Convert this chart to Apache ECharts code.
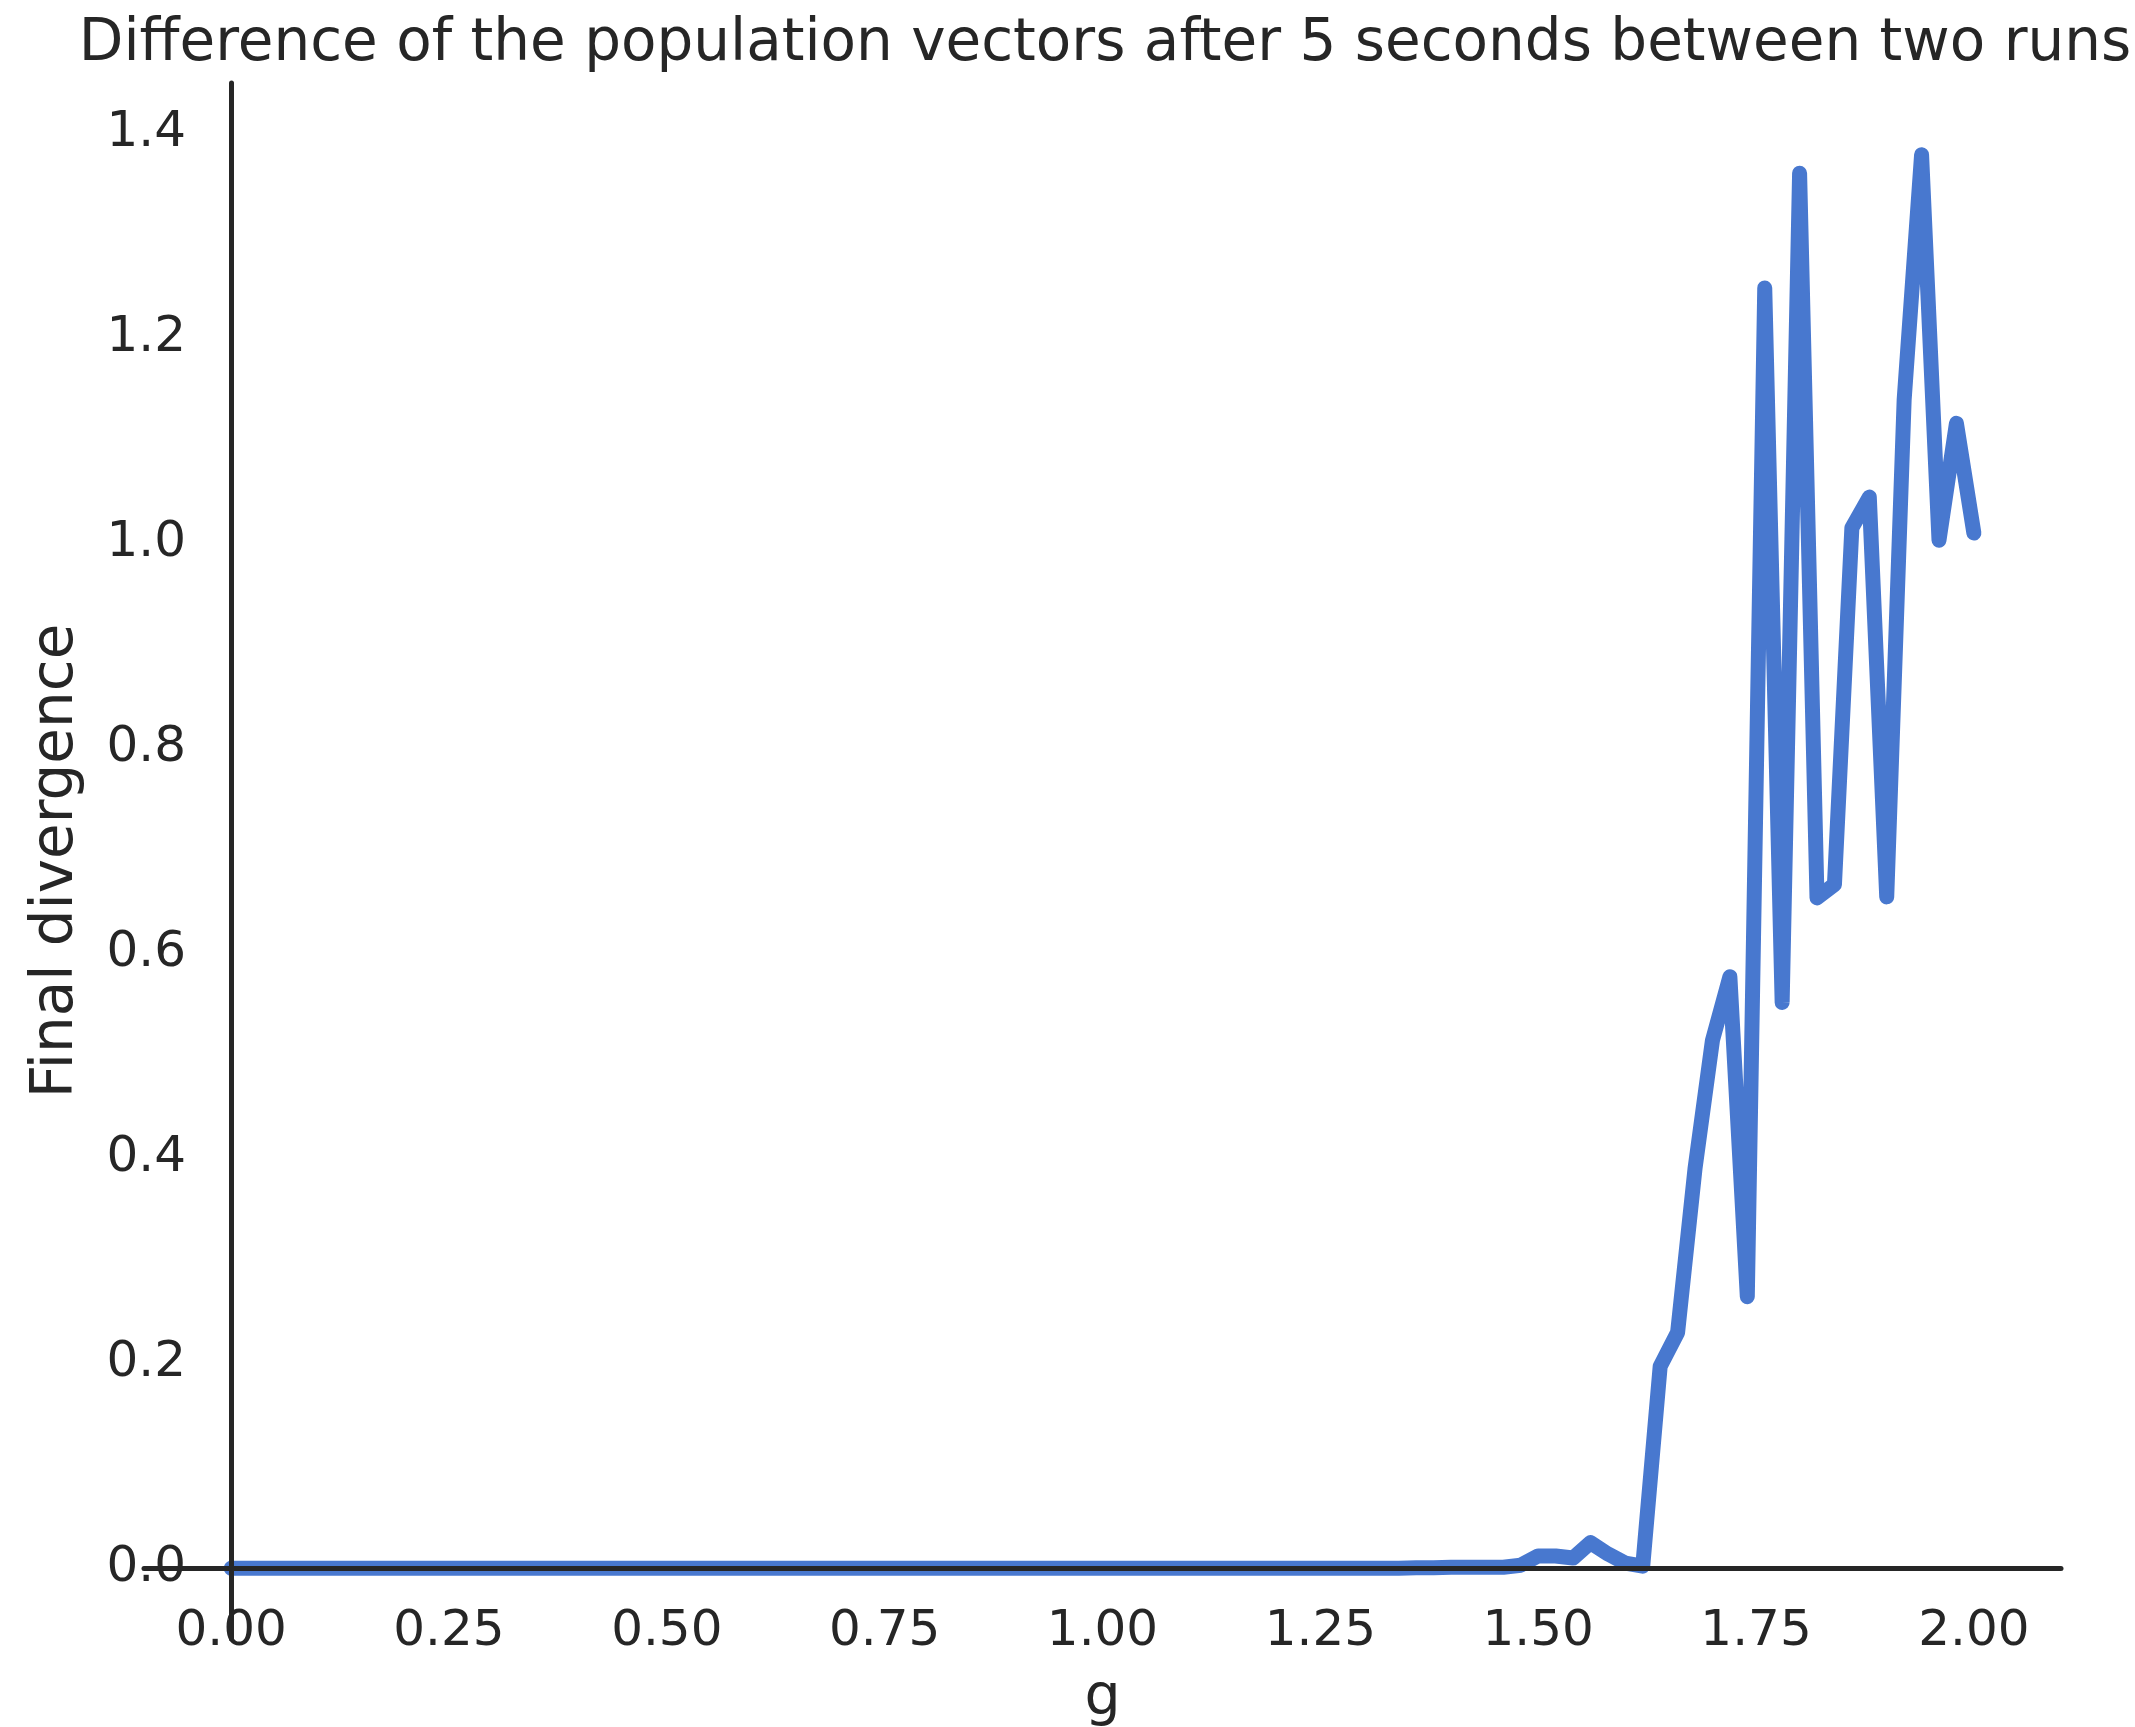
<!DOCTYPE html>
<html>
<head>
<meta charset="utf-8">
<script src="https://cdn.jsdelivr.net/npm/echarts@6/dist/echarts.min.js"></script>
<style>
html,body{margin:0;padding:0;background:#fff;}
#chart{width:2135px;height:1727px;}
</style>
</head>
<body>
<div id="chart"></div>
<script>
const titleText = "Difference of the population vectors after 5 seconds between two runs";
const xName = "g";
const yName = "Final divergence";

const gValues = [
  0.00,0.02,0.04,0.06,0.08,0.10,0.12,0.14,0.16,0.18,
  0.20,0.22,0.24,0.26,0.28,0.30,0.32,0.34,0.36,0.38,
  0.40,0.42,0.44,0.46,0.48,0.50,0.52,0.54,0.56,0.58,
  0.60,0.62,0.64,0.66,0.68,0.70,0.72,0.74,0.76,0.78,
  0.80,0.82,0.84,0.86,0.88,0.90,0.92,0.94,0.96,0.98,
  1.00,1.02,1.04,1.06,1.08,1.10,1.12,1.14,1.16,1.18,
  1.20,1.22,1.24,1.26,1.28,1.30,1.32,1.34,1.36,1.38,
  1.40,1.42,1.44,1.46,1.48,1.50,1.52,1.54,1.56,1.58,
  1.60,1.62,1.64,1.66,1.68,1.70,1.72,1.74,1.76,1.78,
  1.80,1.82,1.84,1.86,1.88,1.90,1.92,1.94,1.96,1.98,
  2.00
];

const divergence = [
  0,0,0,0,0,0,0,0,0,0,
  0,0,0,0,0,0,0,0,0,0,
  0,0,0,0,0,0,0,0,0,0,
  0,0,0,0,0,0,0,0,0,0,
  0,0,0,0,0,0,0,0,0,0,
  0,0,0,0,0,0,0,0,0,0,
  0,0,0,0,0,0,0,0,0.0005,0.0005,
  0.001,0.001,0.001,0.001,0.003,0.012,0.012,0.010,0.025,0.014,
  0.005,0.002,0.197,0.230,0.39,0.515,0.577,0.265,1.249,0.552,
  1.361,0.654,0.667,1.015,1.045,0.655,1.14,1.379,1.003,1.117,
  1.010
];

const xTicks = [0, 0.25, 0.5, 0.75, 1.0, 1.25, 1.5, 1.75, 2.0];
const yTicks = [0, 0.2, 0.4, 0.6, 0.8, 1.0, 1.2, 1.4];

const FONT = "DejaVu Sans";
const TXT = "#262626";

// plot box (matplotlib axes incl. 5% margins)
const GRID = {left: 144, right: 74, top: 83, bottom: 88};
const X_MIN = -0.1, X_MAX = 2.1, Y_MIN = -0.069, Y_MAX = 1.449;
const plotW = 2135 - GRID.left - GRID.right;
const plotH = 1727 - GRID.top - GRID.bottom;
// spines sit at the data zero of the other axis
const xAxisOffset = -Math.round((0 - Y_MIN) / (Y_MAX - Y_MIN) * plotH);
const yAxisOffset = -Math.round((0 - X_MIN) / (X_MAX - X_MIN) * plotW);

const chart = echarts.init(document.getElementById('chart'), null, {renderer: 'canvas'});
chart.setOption({
  animation: false,
  backgroundColor: '#ffffff',
  title: {
    text: titleText,
    left: 1100,
    textAlign: 'center',
    top: 11,
    textStyle: {fontFamily: FONT, fontSize: 58, fontWeight: 'normal', color: TXT}
  },
  grid: Object.assign({containLabel: false, outerBoundsMode: 'none'}, GRID),
  xAxis: {
    type: 'value',
    min: X_MIN, max: X_MAX,
    position: 'bottom',
    offset: xAxisOffset,
    z: 10,
    name: xName,
    nameLocation: 'middle',
    nameGap: 103,
    nameMoveOverlap: false,
    nameTextStyle: {fontFamily: FONT, fontSize: 57, color: TXT},
    axisLine: {onZero: false, lineStyle: {color: TXT, width: 5}},
    axisTick: {show: false, customValues: xTicks},
    splitLine: {show: false},
    axisLabel: {
      customValues: xTicks,
      margin: 39,
      hideOverlap: false,
      fontFamily: FONT, fontSize: 50, color: TXT,
      formatter: v => v.toFixed(2)
    }
  },
  yAxis: {
    type: 'value',
    min: Y_MIN, max: Y_MAX,
    position: 'left',
    offset: yAxisOffset,
    z: 10,
    name: yName,
    nameLocation: 'middle',
    nameRotate: 90,
    nameGap: 145,
    nameMoveOverlap: false,
    nameTextStyle: {fontFamily: FONT, fontSize: 58, color: TXT},
    axisLine: {onZero: false, lineStyle: {color: TXT, width: 5}},
    axisTick: {show: false, customValues: yTicks},
    splitLine: {show: false},
    axisLabel: {
      customValues: yTicks,
      margin: 45,
      hideOverlap: false,
      fontFamily: FONT, fontSize: 50, color: TXT,
      formatter: v => v.toFixed(1)
    }
  },
  series: [{
    type: 'line',
    data: gValues.map((g, i) => [g, divergence[i]]),
    showSymbol: false,
    symbol: 'none',
    z: 2,
    lineStyle: {color: '#4878CF', width: 15, cap: 'round', join: 'round'}
  }]
});
</script>
</body>
</html>
